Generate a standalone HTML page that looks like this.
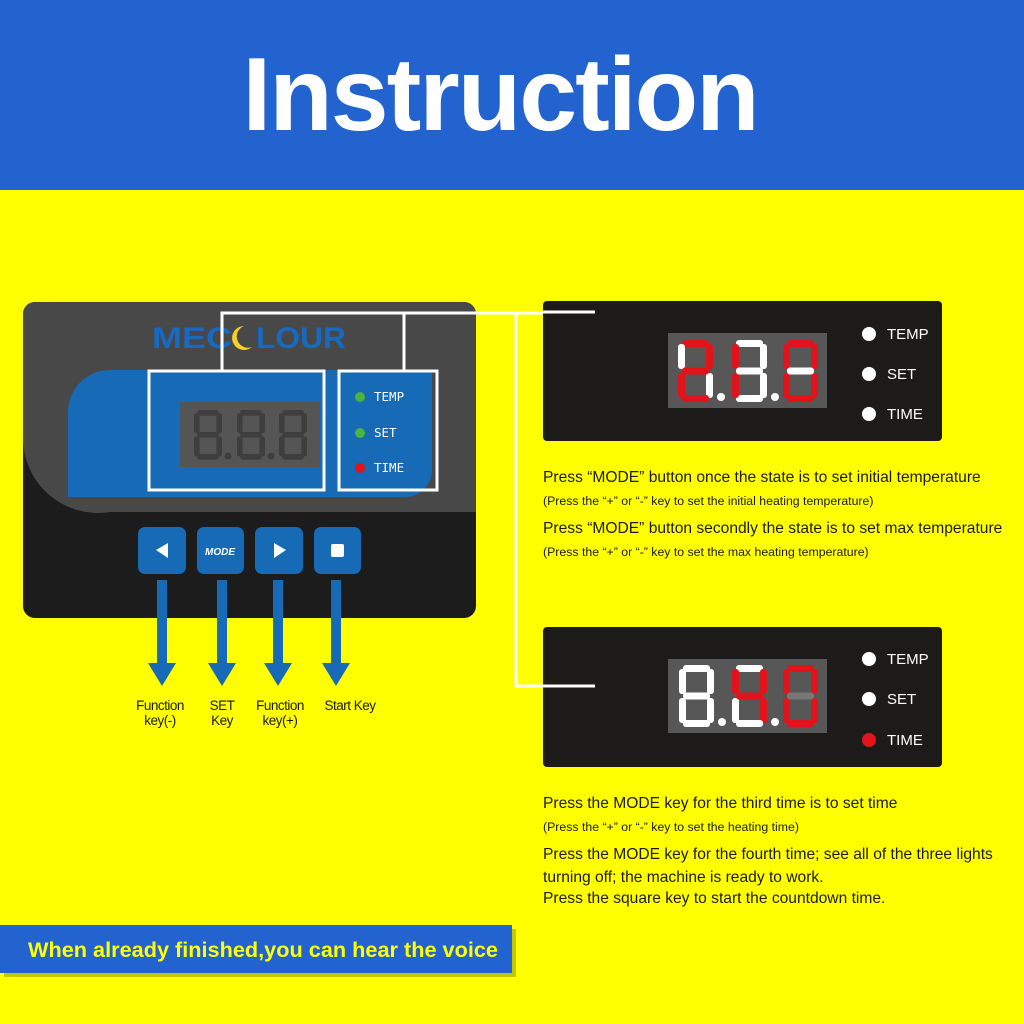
<!DOCTYPE html>
<html><head><meta charset="utf-8"><style>
body{margin:0;width:1024px;height:1024px;overflow:hidden;background:#ffff00;font-family:"Liberation Sans",sans-serif;position:relative}
.hdr{position:absolute;left:0;top:0;width:1024px;height:190px;background:#2263cf}
.title{position:absolute;left:0;width:1000px;top:36px;text-align:center;color:#fff;font-weight:bold;font-size:104px;letter-spacing:-2px}
.t{position:absolute;color:#1a1a1a;white-space:nowrap}
.m{font-size:15.6px}
.s{font-size:12.3px}
</style></head><body>
<div class="hdr"></div>
<div class="title">Instruction</div>
<svg width="1024" height="1024" style="position:absolute;left:0;top:0">
<defs>
<g id="seg">
<rect x="4" y="0" width="27" height="7" rx="3"/><rect x="28" y="4" width="7" height="25" rx="3"/><rect x="28" y="33" width="7" height="25" rx="3"/><rect x="4" y="55" width="27" height="7" rx="3"/><rect x="0" y="33" width="7" height="25" rx="3"/><rect x="0" y="4" width="7" height="25" rx="3"/><rect x="4" y="27.5" width="27" height="7" rx="3"/>
</g>
</defs>
<!-- device -->
<rect x="23" y="302" width="453" height="316" rx="12" fill="#1c1c1c"/>
<path d="M35 302 H464 A12 12 0 0 1 476 314 V512 H110 A75 75 0 0 1 23 440 V314 A12 12 0 0 1 35 302 Z" fill="#484848"/>
<path d="M110 370 H432 V470 A27 27 0 0 1 405 497 H68 V412 A42 42 0 0 1 110 370 Z" fill="#176ab5"/>
<text x="152" y="348" font-family="Liberation Sans" font-weight="bold" font-size="30" fill="#1769c2" textLength="80" lengthAdjust="spacingAndGlyphs">MEC</text>
<path d="M244 326 a12 12 0 1 0 8 21 a10 10 0 1 1 -8 -21z" fill="#f3d12a"/>
<text x="256" y="348" font-family="Liberation Sans" font-weight="bold" font-size="30" fill="#1769c2" textLength="90" lengthAdjust="spacingAndGlyphs">LOUR</text>
<rect x="180" y="402" width="140" height="65" fill="#555"/>
<g fill="#3e3e3e">
<g transform="translate(194,410) scale(0.8)"><use href="#seg"/></g><circle cx="228" cy="456" r="3.5"/>
<g transform="translate(237,410) scale(0.8)"><use href="#seg"/></g><circle cx="271" cy="456" r="3.5"/>
<g transform="translate(279,410) scale(0.8)"><use href="#seg"/></g>
</g>
<rect x="149" y="371" width="175" height="119" fill="none" stroke="#fff" stroke-width="3"/>
<rect x="339" y="371" width="98" height="119" fill="none" stroke="#fff" stroke-width="3"/>
<polyline points="222,371 222,313 404,313 404,371" fill="none" stroke="#fff" stroke-width="3"/>
<polyline points="404,313 595,313" fill="none" stroke="#fff" stroke-width="3"/>
<polyline points="516,313 516,686 595,686" fill="none" stroke="#fff" stroke-width="3"/>
<circle cx="360" cy="397" r="5" fill="#4bb43c"/><circle cx="360" cy="433" r="5" fill="#4bb43c"/><circle cx="360" cy="468" r="5" fill="#e3131b"/>
<g font-family="DejaVu Sans Mono" font-size="12.5" fill="#fff"><text x="374" y="401">TEMP</text><text x="374" y="437">SET</text><text x="374" y="472">TIME</text></g>
<g fill="#176ab5"><rect x="138" y="527" width="48" height="47" rx="7"/><rect x="197" y="527" width="47" height="47" rx="7"/><rect x="255" y="527" width="48" height="47" rx="7"/><rect x="314" y="527" width="47" height="47" rx="7"/></g>
<polygon points="168,543 168,558 156,550" fill="#fff"/>
<polygon points="274,543 274,558 286,550" fill="#fff"/>
<rect x="331" y="544" width="13" height="13" rx="2" fill="#fff"/>
<text x="220" y="555" text-anchor="middle" font-family="Liberation Sans" font-style="italic" font-weight="bold" font-size="10" fill="#fff">MODE</text>
<g fill="#176ab5">
<rect x="157" y="580" width="10" height="85"/><polygon points="148,663 176,663 162,686"/>
<rect x="217" y="580" width="10" height="85"/><polygon points="208,663 236,663 222,686"/>
<rect x="273" y="580" width="10" height="85"/><polygon points="264,663 292,663 278,686"/>
<rect x="331" y="580" width="10" height="85"/><polygon points="322,663 350,663 336,686"/>
</g>
<g font-family="Liberation Sans" font-size="13.5" fill="#1a1a1a" text-anchor="middle" letter-spacing="-0.5">
<text x="160" y="710">Function</text><text x="160" y="725">key(-)</text>
<text x="222" y="710">SET</text><text x="222" y="725">Key</text>
<text x="280" y="710">Function</text><text x="280" y="725">key(+)</text>
<text x="350" y="710">Start Key</text>
</g>
<!-- right panels -->
<rect x="543" y="301" width="399" height="140" rx="4" fill="#1d1a1a"/>
<rect x="543" y="627" width="399" height="140" rx="4" fill="#1d1a1a"/>
<line x1="543" y1="312" x2="595" y2="312" stroke="#fff" stroke-width="3"/>
<line x1="543" y1="686" x2="595" y2="686" stroke="#fff" stroke-width="3"/>
<rect x="668" y="333" width="159" height="75" fill="#575757"/>
<rect x="668" y="659" width="159" height="74" fill="#575757"/>
<g font-family="Liberation Sans" font-size="15" fill="#fff">
<circle cx="869" cy="334" r="7" fill="#fff"/><text x="887" y="339">TEMP</text>
<circle cx="869" cy="374" r="7" fill="#fff"/><text x="887" y="379">SET</text>
<circle cx="869" cy="414" r="7" fill="#fff"/><text x="887" y="419">TIME</text>
<circle cx="869" cy="659" r="7" fill="#fff"/><text x="887" y="664">TEMP</text>
<circle cx="869" cy="699" r="7" fill="#fff"/><text x="887" y="704">SET</text>
<circle cx="869" cy="740" r="7" fill="#e3131b"/><text x="887" y="745">TIME</text>
</g>
<g transform="translate(678,340)">
<rect x="4" y="0" width="27" height="7" rx="3" fill="#e3131b"/><rect x="28" y="4" width="7" height="25" rx="3" fill="#e3131b"/><rect x="28" y="33" width="7" height="25" rx="3" fill="#fff"/><rect x="4" y="55" width="27" height="7" rx="3" fill="#e3131b"/><rect x="0" y="33" width="7" height="25" rx="3" fill="#e3131b"/><rect x="0" y="4" width="7" height="25" rx="3" fill="#fff"/><rect x="4" y="27.5" width="27" height="7" rx="3" fill="#e3131b"/>
<circle cx="43" cy="57" r="4" fill="#fff"/></g>
<g transform="translate(732,340)">
<rect x="4" y="0" width="27" height="7" rx="3" fill="#fff"/><rect x="28" y="4" width="7" height="25" rx="3" fill="#fff"/><rect x="28" y="33" width="7" height="25" rx="3" fill="#fff"/><rect x="4" y="55" width="27" height="7" rx="3" fill="#fff"/><rect x="0" y="33" width="7" height="25" rx="3" fill="#e3131b"/><rect x="0" y="4" width="7" height="25" rx="3" fill="#e3131b"/><rect x="4" y="27.5" width="27" height="7" rx="3" fill="#fff"/>
<circle cx="43" cy="57" r="4" fill="#fff"/></g>
<g transform="translate(783,340)">
<rect x="4" y="0" width="27" height="7" rx="3" fill="#e3131b"/><rect x="28" y="4" width="7" height="25" rx="3" fill="#e3131b"/><rect x="28" y="33" width="7" height="25" rx="3" fill="#e3131b"/><rect x="4" y="55" width="27" height="7" rx="3" fill="#e3131b"/><rect x="0" y="33" width="7" height="25" rx="3" fill="#e3131b"/><rect x="0" y="4" width="7" height="25" rx="3" fill="#e3131b"/><rect x="4" y="27.5" width="27" height="7" rx="3" fill="#fff"/></g>
<g transform="translate(679,665)">
<rect x="4" y="0" width="27" height="7" rx="3" fill="#fff"/><rect x="28" y="4" width="7" height="25" rx="3" fill="#fff"/><rect x="28" y="33" width="7" height="25" rx="3" fill="#fff"/><rect x="4" y="55" width="27" height="7" rx="3" fill="#fff"/><rect x="0" y="33" width="7" height="25" rx="3" fill="#fff"/><rect x="0" y="4" width="7" height="25" rx="3" fill="#fff"/><rect x="4" y="27.5" width="27" height="7" rx="3" fill="#fff"/>
<circle cx="43" cy="57" r="4" fill="#fff"/></g>
<g transform="translate(732,665)">
<rect x="4" y="0" width="27" height="7" rx="3" fill="#fff"/><rect x="28" y="4" width="7" height="25" rx="3" fill="#e3131b"/><rect x="28" y="33" width="7" height="25" rx="3" fill="#e3131b"/><rect x="4" y="55" width="27" height="7" rx="3" fill="#fff"/><rect x="0" y="33" width="7" height="25" rx="3" fill="#fff"/><rect x="0" y="4" width="7" height="25" rx="3" fill="#e3131b"/><rect x="4" y="27.5" width="27" height="7" rx="3" fill="#e3131b"/>
<circle cx="43" cy="57" r="4" fill="#fff"/></g>
<g transform="translate(783,665)">
<rect x="4" y="0" width="27" height="7" rx="3" fill="#e3131b"/><rect x="28" y="4" width="7" height="25" rx="3" fill="#e3131b"/><rect x="28" y="33" width="7" height="25" rx="3" fill="#e3131b"/><rect x="4" y="55" width="27" height="7" rx="3" fill="#e3131b"/><rect x="0" y="33" width="7" height="25" rx="3" fill="#e3131b"/><rect x="0" y="4" width="7" height="25" rx="3" fill="#e3131b"/><rect x="4" y="27.5" width="27" height="7" rx="3" fill="#777"/></g>
<rect x="4" y="929" width="512" height="48" fill="#5a5a00" opacity="0.35"/>
<rect x="0" y="925" width="512" height="48" fill="#2263cf"/>
<text x="28" y="957" font-family="Liberation Sans" font-weight="bold" font-size="21" fill="#ffff00" textLength="470" lengthAdjust="spacingAndGlyphs">When already finished,you can hear the voice</text>
</svg>
<div class="t m" style="left:543px;top:469px">Press “MODE” button once the state is to set initial temperature</div>
<div class="t s" style="left:543px;top:494px">(Press the “+” or “-” key to set the initial heating temperature)</div>
<div class="t m" style="left:543px;top:520px">Press “MODE” button secondly the state is to set max temperature</div>
<div class="t s" style="left:543px;top:545px">(Press the “+” or “-” key to set the max heating temperature)</div>
<div class="t m" style="left:543px;top:795px">Press the MODE key for the third time is to set time</div>
<div class="t s" style="left:543px;top:820px">(Press the “+” or “-” key to set the heating time)</div>
<div class="t m" style="left:543px;top:846px">Press the MODE key for the fourth time; see all of the three lights</div>
<div class="t m" style="left:543px;top:869px">turning off; the machine is ready to work.</div>
<div class="t m" style="left:543px;top:890px">Press the square key to start the countdown time.</div>
</body></html>
